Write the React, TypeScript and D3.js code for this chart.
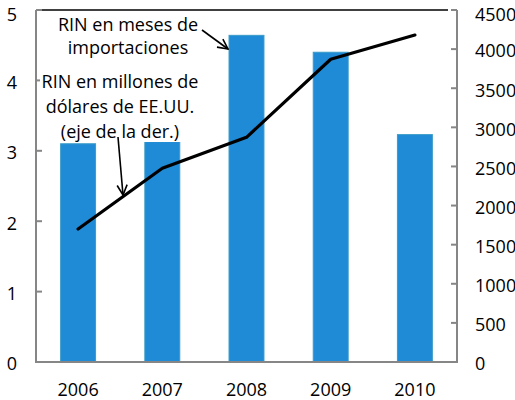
import React from "react";
import * as d3 from "d3";

const years = ["2006", "2007", "2008", "2009", "2010"];
const mesesImport = [3.1, 3.13, 4.64, 4.4, 3.23];
const rinMillones = [1700, 2476, 2872, 3870, 4180];
const leftTicks = [0, 1, 2, 3, 4, 5];
const rightTicks = [0, 500, 1000, 1500, 2000, 2500, 3000, 3500, 4000, 4500];
const note1 = ["RIN en meses de", "importaciones"];
const note2 = ["RIN en millones de", "dólares de EE.UU.", "(eje de la der.)"];

const W = 515, H = 400;
const L = 36, R = 457, T = 10, B = 362;
const FONT = "'Open Sans', sans-serif";

export default function App() {
  const x = d3.scaleBand().domain(years).range([L, R]).paddingInner(0.585).paddingOuter(0.2925);
  const yL = d3.scaleLinear().domain([0, 5]).range([B, T]);
  const yR = d3.scaleLinear().domain([0, 4500]).range([B, T]);
  const line = d3.line<number>()
    .x((_, i) => x(years[i])! + x.bandwidth() / 2)
    .y((d) => yR(d));
  const axisColor = "#868686";
  const fs = 18;
  const off = (v: number, top: boolean) => v + (top ? 5 : 2);
  return (
    <svg width={W} height={H} style={{ position: "absolute", left: 0, top: 0, background: "#fff" }} fontFamily={FONT}>
      <defs>
        <marker id="arr" viewBox="0 0 12 12" refX="11" refY="6" markerWidth="12" markerHeight="12" markerUnits="userSpaceOnUse" orient="auto">
          <path d="M1,1 L11,6 L1,11" fill="none" stroke="#000" strokeWidth={1.6} />
        </marker>
      </defs>
      {years.map((yr, i) => (
        <rect key={yr} x={x(yr)} y={yL(mesesImport[i])} width={x.bandwidth()} height={B - yL(mesesImport[i])}
          fill="#1f8ad6" stroke="#3a9cc8" strokeWidth={1} />
      ))}
      <line x1={L} x2={448} y1={T} y2={T} stroke="#000" strokeWidth={1.5} />
      <line x1={L} x2={L} y1={T} y2={B} stroke={axisColor} strokeWidth={2} />
      <line x1={R} x2={R} y1={T} y2={B} stroke={axisColor} strokeWidth={2} />
      <line x1={L - 1} x2={R + 1} y1={B} y2={B} stroke={axisColor} strokeWidth={2} />
      {leftTicks.map((t) => (
        <g key={"l" + t}>
          <line x1={L} x2={L + 6} y1={yL(t)} y2={yL(t)} stroke={axisColor} strokeWidth={2} />
          <text x={17} y={off(yL(t), t === 5)} dy="0.35em" textAnchor="end" fontSize={fs} fill="#000">{t}</text>
        </g>
      ))}
      {rightTicks.map((t) => (
        <g key={"r" + t}>
          <line x1={R - 6} x2={R} y1={yR(t)} y2={yR(t)} stroke={axisColor} strokeWidth={2} />
          <text x={475} y={off(yR(t), t === 4500)} dy="0.35em" textAnchor="start" fontSize={fs} fill="#000">{t}</text>
        </g>
      ))}
      {years.map((yr) => (
        <text key={"x" + yr} x={x(yr)! + x.bandwidth() / 2} y={390} dy="0.35em" textAnchor="middle" fontSize={fs} fill="#000">{yr}</text>
      ))}
      <path d={line(rinMillones)!} fill="none" stroke="#000" strokeWidth={3.2} strokeLinecap="round" strokeLinejoin="round" />
      <g fontSize={fs} fill="#000" textAnchor="middle">
        <rect x={56} y={15} width={146} height={42} fill="#fff" />
        {note1.map((s, i) => (
          <text key={s} x={128} y={31 + i * 23}>{s}</text>
        ))}
        <rect x={40} y={72} width={162} height={70} fill="#fff" />
        {note2.map((s, i) => (
          <text key={s} x={120} y={88 + i * 25}>{s}</text>
        ))}
      </g>
      <line x1={202} y1={30} x2={228} y2={49} stroke="#000" strokeWidth={1.6} markerEnd="url(#arr)" />
      <line x1={118} y1={137} x2={123} y2={195} stroke="#000" strokeWidth={1.6} markerEnd="url(#arr)" />
    </svg>
  );
}
